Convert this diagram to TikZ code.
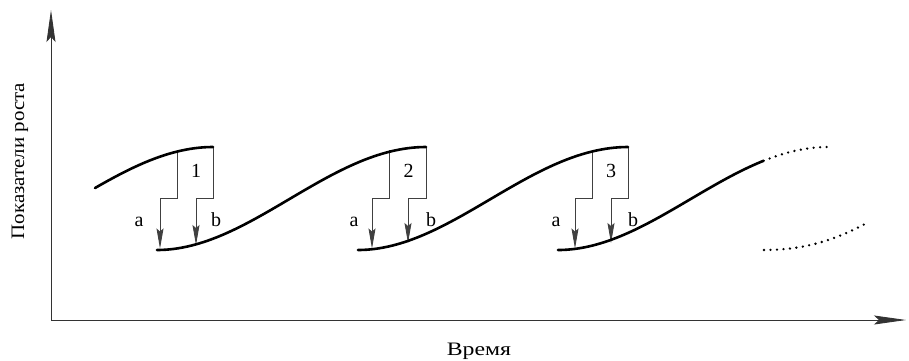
\documentclass[tikz,border=0pt]{standalone}
\usepackage{fontspec}
\setmainfont{Liberation Serif}
\newfontfamily\ylabfont[FakeStretch=1.1]{Liberation Serif}
\newfontfamily\xlabfont[FakeStretch=1.25]{Liberation Serif}
\usetikzlibrary{arrows.meta}
\begin{document}
\begin{tikzpicture}[x=1pt,y=-1pt,
  axisline/.style={line width=0.9pt, black!80, -{Stealth[length=32pt,width=9pt,inset=5pt]}},
  growth/.style={line width=2.6pt, line cap=round},
  dotline/.style={line width=2.6pt, line cap=round, dash pattern=on 0pt off 6.5pt},
  conn/.style={line width=0.9pt, black!75},
  jump/.style={conn, -{Stealth[length=20pt,width=7pt,inset=3pt]}},
  lbl/.style={font=\fontsize{20}{24}\selectfont, inner sep=0pt, anchor=base},
]
\useasboundingbox (0,0) rectangle (909,360);
% axes
\coordinate (O) at (51,320);
\coordinate (Ytip) at (51,10);
\coordinate (Xtip) at (906,320);
\draw[axisline] (O) -- (Ytip);
\draw[axisline] (O) -- (Xtip);
\node[lbl, font=\ylabfont\fontsize{19}{22}\selectfont, rotate=90] (ylab) at (24,161) {Показатели роста};
\node[lbl, font=\xlabfont\fontsize{19}{22}\selectfont] (xlab) at (479,355) {Время};
% transitions
\foreach \i/\la/\ra/\xa/\xb/\tb/\xl/\xr in {1/177/213/160/196/245/139/216, 2/389/426/372/408/243/354/431, 3/592/628/575/611/243/556/633}{
  \coordinate (ta\i) at (\la,150);
  \coordinate (tb\i) at (\ra,147);
  \coordinate (ea\i) at (\xa,248.5);
  \coordinate (eb\i) at (\xb,\tb);
  \draw[jump] (ta\i) -- (\la,198) -| (ea\i);
  \draw[jump] (tb\i) -- (\ra,198) -| (eb\i);
  \pgfmathsetmacro{\xn}{(\la+\ra)/2+1}
  \node[lbl] (n\i) at (\xn,177) {\i};
  \node[lbl] (a\i) at (\xl,226) {a};
  \node[lbl] (b\i) at (\xr,226) {b};
}
% growth curves
\coordinate (c1s) at (95,188);   \coordinate (c1e) at (213,147);
\coordinate (c2s) at (157,250);  \coordinate (c2e) at (426,147);
\coordinate (c3s) at (358,250);  \coordinate (c3e) at (628,147);
\coordinate (c4s) at (558,250);  \coordinate (c4m) at (763.5,160.8);
\coordinate (c4e) at (828,147);
\coordinate (c5s) at (764,250);  \coordinate (c5e) at (867,223);
\draw[growth] (c1s) .. controls (133,166.2) and (171.5,147) .. (c1e);
\draw[growth] (c2s) .. controls (250,250) and (330,147) .. (c2e);
\draw[growth] (c3s) .. controls (451,250) and (531,147) .. (c3e);
\draw[growth] (c4s) .. controls (629.6,250) and (693.5,189) .. (c4m);
\draw[dotline] (c4m) .. controls (784.2,152.5) and (805.7,147) .. (c4e);
\draw[dotline] (c5s) .. controls (810,250) and (840,237) .. (c5e);
\end{tikzpicture}
\end{document}
